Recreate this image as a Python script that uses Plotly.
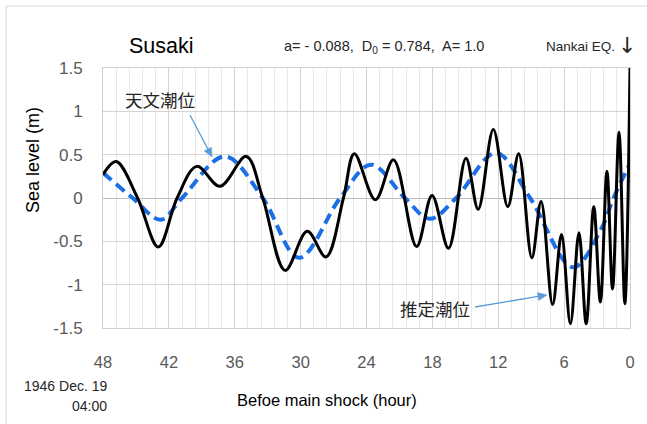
import math
import plotly.graph_objects as go

# Estimated tide (black) - hours before main shock and sea level (m)
est_hours = [48.0, 46.8, 44.85, 42.96, 41.25, 39.45, 37.35, 34.95, 33.45, 31.41,
             29.4, 27.69, 26.1, 25.11, 23.19, 21.54, 19.44, 18.03, 16.53, 14.94,
             13.83, 12.45, 11.13, 10.14, 8.94, 8.1, 7.05, 6.24, 5.43, 4.65,
             3.99, 3.3, 2.7, 2.1, 1.59, 1.0, 0.47, 0.0]
est_level = [0.27, 0.42, 0.0, -0.565, 0.0, 0.365, 0.135, 0.48, 0.0, -0.835,
             -0.385, -0.68, 0.0, 0.51, -0.02, 0.44, -0.56, 0.03, -0.58, 0.46,
             -0.13, 0.79, -0.10, 0.51, -0.69, -0.04, -1.23, -0.42, -1.45, -0.40,
             -1.45, -0.10, -1.2, 0.31, -1.05, 0.76, -1.22, 1.5]

# Astronomical tide (blue dashed)
ast_hours = [48.0, 45.3, 42.75, 40.8, 36.9, 33.45, 30.15, 26.4, 23.6, 20.5,
             18.24, 15.84, 12.2, 9.1, 5.19, 2.6, 1.5, 0.0]
ast_level = [0.29, 0.0, -0.25, 0.0, 0.48, 0.0, -0.69, 0.0, 0.385, 0.0,
             -0.24, 0.0, 0.52, 0.0, -0.80, -0.35, 0.0, 0.40]

x_ticks = [48, 42, 36, 30, 24, 18, 12, 6, 0]
y_ticks = [1.5, 1, 0.5, 0, -0.5, -1, -1.5]
y_ticktext = ["1.5", "1", "0.5", "0", "-0.5", "-1", "-1.5"]

W, H = 647, 424
L, R, T, B = 103, 630, 68, 328
FONT = "Liberation Sans, Arial, sans-serif"
JP = "Noto Sans CJK JP, sans-serif"


def px(x):
    return (x - L) / (R - L)


def py(y):
    return (B - y) / (B - T)


fig = go.Figure()
fig.add_trace(go.Scatter(x=ast_hours, y=ast_level, mode="lines",
                         line=dict(color="#1a6fe6", width=4, dash="11px,6px", shape="spline"),
                         showlegend=False, hoverinfo="skip"))
fig.add_trace(go.Scatter(x=est_hours, y=est_level, mode="lines",
                         line=dict(color="#000000", width=3, shape="spline"),
                         showlegend=False, hoverinfo="skip"))

fig.update_layout(
    width=W, height=H,
    margin=dict(l=L, r=W - R, t=T, b=H - B, pad=0, autoexpand=False),
    paper_bgcolor="white", plot_bgcolor="white",
    font=dict(family=FONT, color="#000000"),
    xaxis=dict(range=[48, 0], tickvals=x_ticks, ticktext=[str(v) for v in x_ticks],
               showgrid=True, gridcolor="#d4d4d4", gridwidth=1,
               minor=dict(dtick=1.2, tick0=0, showgrid=True, gridcolor="#e8e8e8", gridwidth=1),
               showline=True, linecolor="#d0d0d0", linewidth=1, mirror=True,
               ticks="outside", ticklen=19, tickcolor="rgba(0,0,0,0)",
               tickfont=dict(family=FONT, size=16.5, color="#595959"),
               zeroline=False, fixedrange=True),
    yaxis=dict(range=[-1.5, 1.5], tickvals=y_ticks, ticktext=y_ticktext,
               showgrid=True, gridcolor="#d4d4d4", gridwidth=1,
               showline=True, linecolor="#d0d0d0", linewidth=1, mirror=True,
               ticks="outside", ticklen=16, tickcolor="rgba(0,0,0,0)",
               tickfont=dict(family=FONT, size=17, color="#595959"),
               zeroline=True, zerolinecolor="#bdbdbd", zerolinewidth=1, fixedrange=True),
)

# outer chart border
fig.add_shape(type="rect", xref="paper", yref="paper",
              x0=px(6), x1=px(660), y0=py(440), y1=py(6),
              line=dict(color="#d9d9d9", width=1), fillcolor="rgba(0,0,0,0)", layer="below")


def leader(x0, y0, x1, y1, color="#5b9bd5"):
    dx, dy = x1 - x0, y1 - y0
    n = math.hypot(dx, dy)
    ux, uy = dx / n, dy / n
    hl, hw = 9.0, 4.0
    bx, by = x1 - ux * hl, y1 - uy * hl
    fig.add_shape(type="line", xref="paper", yref="paper",
                  x0=px(x0), y0=py(y0), x1=px(bx), y1=py(by),
                  line=dict(color=color, width=1.3))
    p1 = (bx - uy * hw, by + ux * hw)
    p2 = (bx + uy * hw, by - ux * hw)
    path = "M {:.5f} {:.5f} L {:.5f} {:.5f} L {:.5f} {:.5f} Z".format(
        px(x1), py(y1), px(p1[0]), py(p1[1]), px(p2[0]), py(p2[1]))
    fig.add_shape(type="path", xref="paper", yref="paper", path=path,
                  line=dict(color=color, width=0.5), fillcolor=color)


leader(190, 115, 212, 157)
leader(475, 307, 547, 295)

ann = []
ann.append(dict(text="Susaki", x=px(161), y=py(46), font=dict(size=21.5, family=FONT)))
ann.append(dict(text="a= - 0.088,  D<sub>0</sub> = 0.784,  A= 1.0", x=px(384), y=py(47),
                font=dict(size=14.5, family=FONT, color="#262626")))
ann.append(dict(text="Nankai EQ.", x=px(617), y=py(46), xanchor="right",
                font=dict(size=13.5, family=FONT, color="#262626")))
ann.append(dict(text="↓", x=px(627), y=py(45), font=dict(size=22, family="DejaVu Sans", color="#262626")))
ann.append(dict(text="Sea level (m)", x=px(33), y=py(160), textangle=-90,
                font=dict(size=18, family=FONT)))
ann.append(dict(text="Befoe main shock (hour)", x=px(327), y=py(400),
                font=dict(size=16.5, family=FONT)))
ann.append(dict(text="1946 Dec. 19", x=px(109), y=py(386), xanchor="right",
                font=dict(size=14, family=FONT, color="#262626")))
ann.append(dict(text="04:00", x=px(109), y=py(406), xanchor="right",
                font=dict(size=14, family=FONT, color="#262626")))
ann.append(dict(text="天文潮位", x=px(160), y=py(99), font=dict(size=17.5, family=JP, color="#262626")))
ann.append(dict(text="推定潮位", x=px(435), y=py(308), font=dict(size=17.5, family=JP, color="#262626")))
for a in ann:
    a.update(xref="paper", yref="paper", showarrow=False, xanchor=a.get("xanchor", "center"),
             yanchor="middle")
fig.update_layout(annotations=ann)

fig.write_html("out.html", config={"displayModeBar": False},
               post_script="document.body.style.margin='0';document.body.style.padding='0';")
